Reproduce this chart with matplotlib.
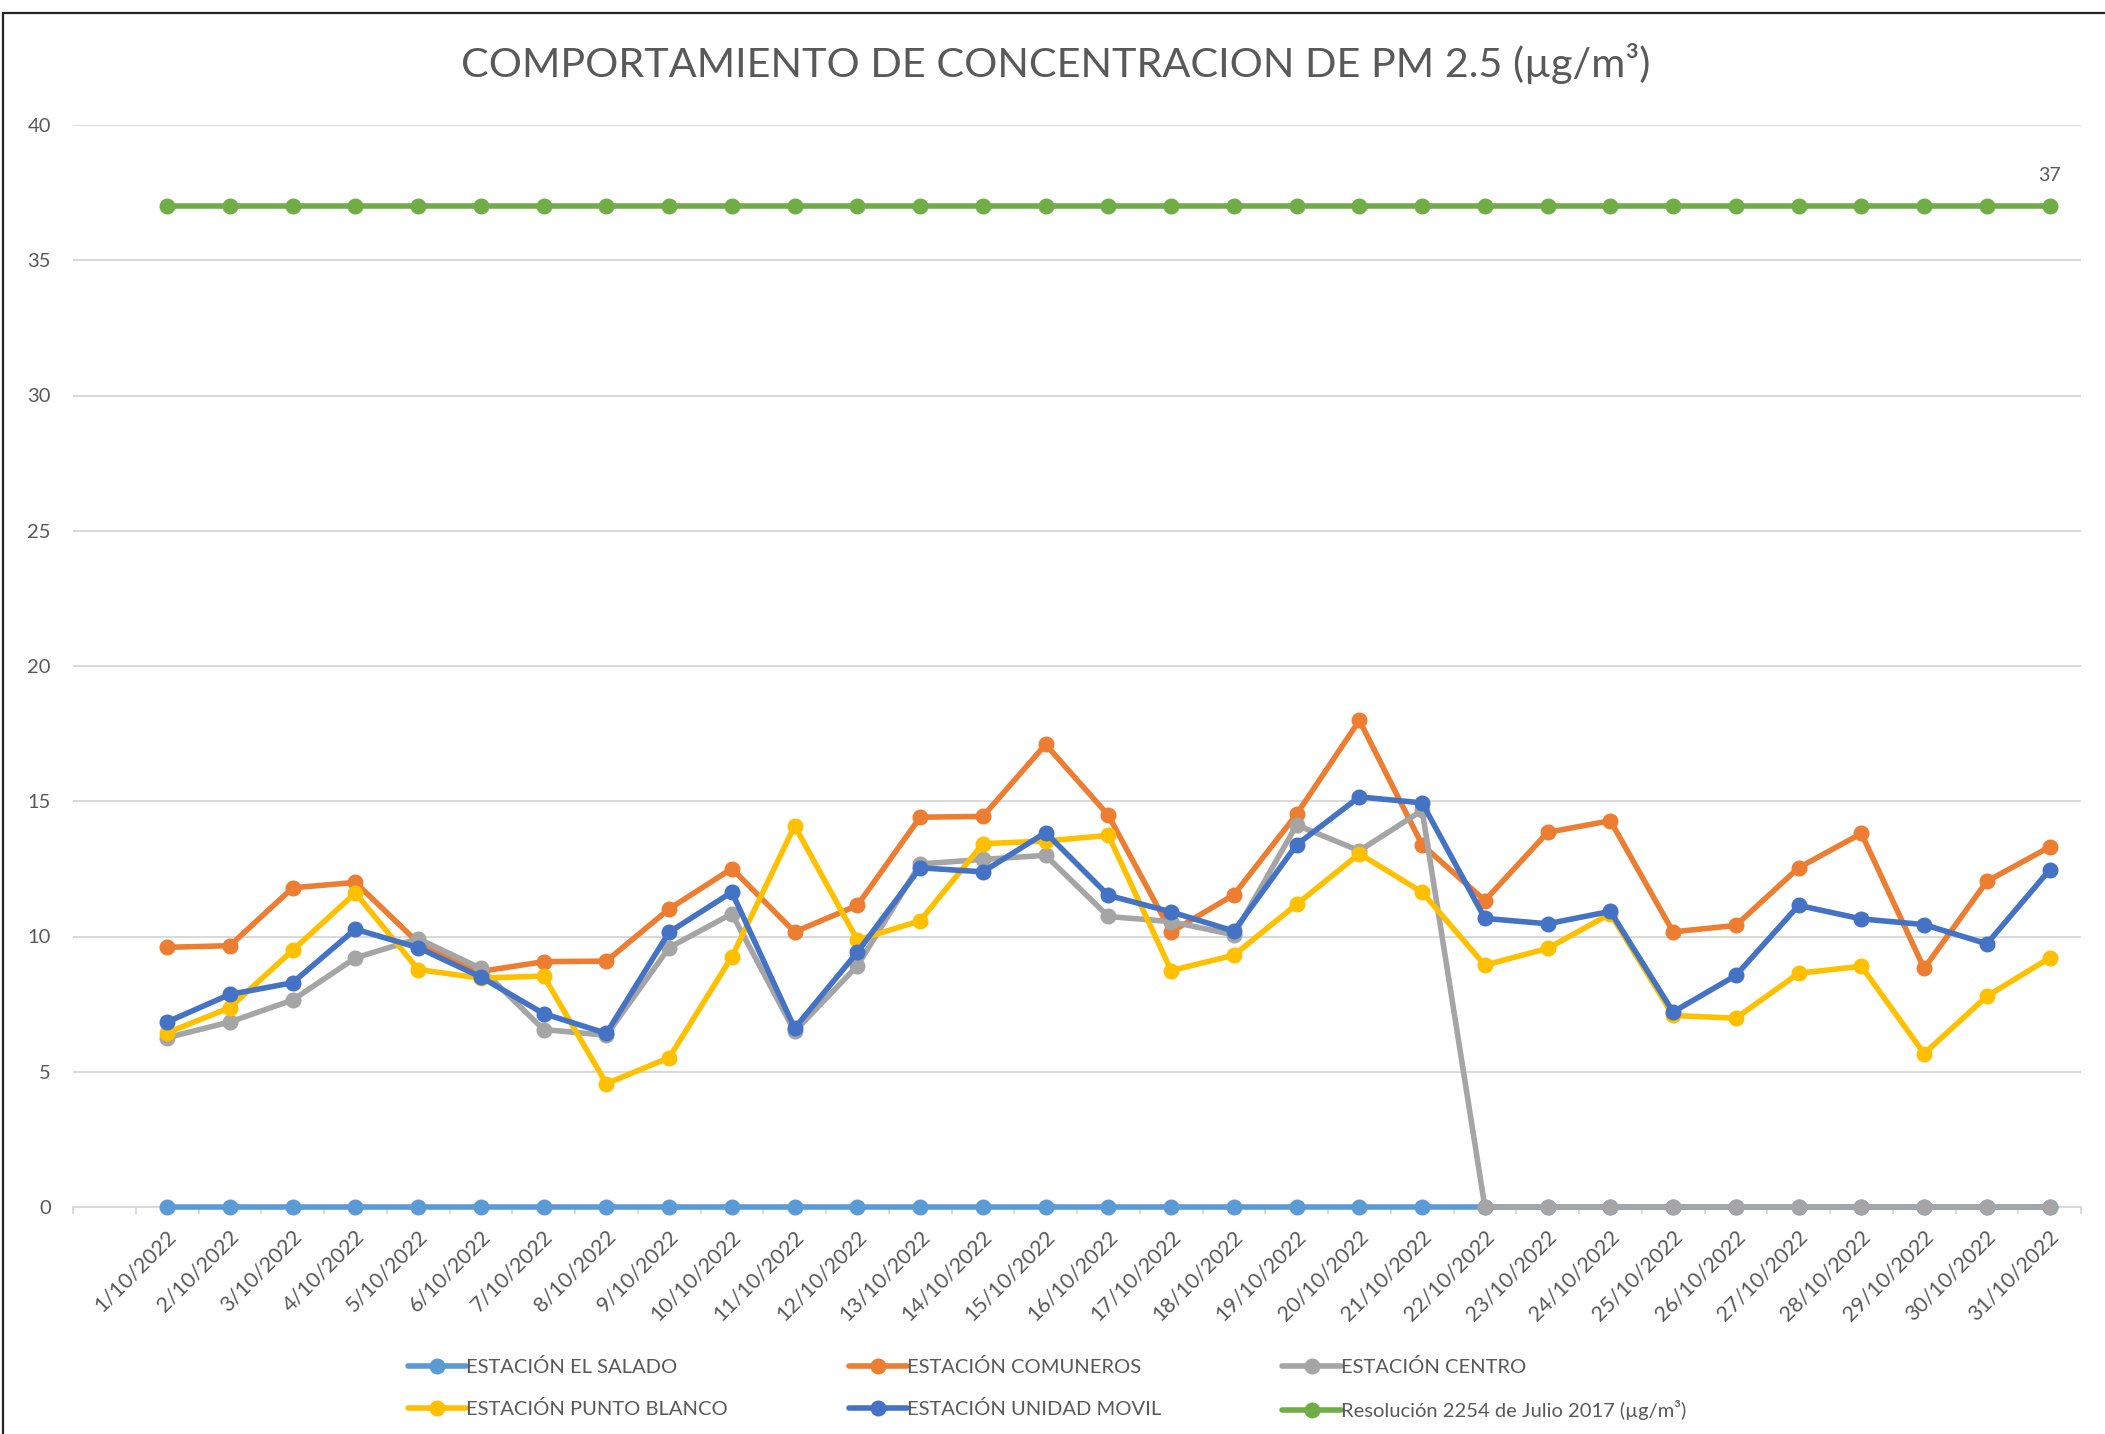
import matplotlib
matplotlib.use("Agg")
import matplotlib.pyplot as plt
import matplotlib.transforms as mtransforms
from matplotlib.patches import Rectangle
import numpy as np

dates = [f"{d}/10/2022" for d in range(1, 32)]

el_salado = [0] * 31
comuneros = [9.6, 9.66, 11.8, 12.0, 9.77, 8.71, 9.07, 9.09, 11.02, 12.51,
             10.17, 11.15, 14.41, 14.44, 17.1, 14.48, 10.17, 11.54, 14.52, 17.99,
             13.39, 11.33, 13.85, 14.28, 10.17, 10.41, 12.54, 13.81, 8.82, 12.04, 13.31]
centro = [6.26, 6.84, 7.65, 9.21, 9.92, 8.82, 6.56, 6.35, 9.59, 10.84,
          6.49, 8.92, 12.68, 12.85, 13.0, 10.74, 10.55, 10.06, 14.12, 13.17,
          14.66, 0, 0, 0, 0, 0, 0, 0, 0, 0, 0]
punto_blanco = [6.44, 7.37, 9.49, 11.61, 8.78, 8.46, 8.54, 4.56, 5.52, 9.25,
                14.09, 9.87, 10.58, 13.43, 13.53, 13.74, 8.74, 9.31, 11.19, 13.06,
                11.64, 8.94, 9.56, 10.84, 7.08, 6.98, 8.64, 8.9, 5.67, 7.79, 9.21]
unidad_movil = [6.84, 7.86, 8.29, 10.27, 9.59, 8.5, 7.15, 6.42, 10.16, 11.64,
                6.61, 9.42, 12.54, 12.39, 13.84, 11.52, 10.91, 10.2, 13.39, 15.16,
                14.94, 10.67, 10.47, 10.93, 7.21, 8.56, 11.15, 10.65, 10.44, 9.73, 12.46]
resolucion = [37] * 31

series_names = ["ESTACIÓN EL SALADO", "ESTACIÓN COMUNEROS", "ESTACIÓN CENTRO",
                "ESTACIÓN PUNTO BLANCO", "ESTACIÓN UNIDAD MOVIL",
                "Resolución 2254 de Julio 2017 (µg/m³)"]
series_values = [el_salado, comuneros, centro, punto_blanco, unidad_movil, resolucion]
series_colors = ["#5B9BD5", "#ED7D31", "#A5A5A5", "#FFC000", "#4472C4", "#70AD47"]

title = "COMPORTAMIENTO DE CONCENTRACION DE PM 2.5 (µg/m³)"
yticks = [0, 5, 10, 15, 20, 25, 30, 35, 40]

FONT = ["Lato", "DejaVu Sans"]
TXT = "#595959"
plt.rcParams["font.family"] = FONT

W, H = 2105, 1434
fig = plt.figure(figsize=(W / 100, H / 100), dpi=100)
fig.patch.set_facecolor("white")

ax_l, ax_r, ax_t, ax_b = 73, 2081, 125, 1207
ax = fig.add_axes([ax_l / W, 1 - ax_b / H, (ax_r - ax_l) / W, (ax_b - ax_t) / H])

x = np.arange(len(dates))
handles = []
for name, vals, col in zip(series_names, series_values, series_colors):
    h, = ax.plot(x, vals, color=col, lw=4, marker="o", ms=10.5,
                 solid_capstyle="round", label=name, clip_on=False, zorder=3)
    handles.append(h)

# data label on last point of the norm line
ax.annotate(f"{resolucion[-1]}", (x[-1], resolucion[-1]), xytext=(0, 22),
            textcoords="offset points", ha="center", va="center",
            fontsize=14, color=TXT)

ax.set_xlim(-1.5, len(dates) - 0.5)
ax.set_ylim(0, 40)
ax.set_yticks(yticks)
ax.set_yticklabels([str(v) for v in yticks], fontsize=14.5, color=TXT)
ax.tick_params(axis="y", length=0, pad=16)
ax.yaxis.grid(True, color="#D9D9D9", lw=1.4)
ax.set_axisbelow(True)

# category ticks at boundaries
ax.set_xticks(np.arange(-1.5, len(dates), 1.0), minor=True)
ax.set_xticks(x)
ax.set_xticklabels(dates, fontsize=15.5, color=TXT, rotation=45,
                   ha="right", va="center", rotation_mode="anchor")
ax.tick_params(axis="x", which="major", length=0, pad=19)
ax.tick_params(axis="x", which="minor", length=5, width=1.4, color="#D9D9D9")
offset = mtransforms.ScaledTranslation(6 / 100, 0, fig.dpi_scale_trans)
for lbl in ax.get_xticklabels():
    lbl.set_transform(lbl.get_transform() + offset)

for s in ["top", "right", "left"]:
    ax.spines[s].set_visible(False)
ax.spines["bottom"].set_color("#D9D9D9")
ax.spines["bottom"].set_linewidth(1.4)
ax.spines["bottom"].set_zorder(1)

fig.text(1056 / W, 1 - 64 / H, title, ha="center", va="center",
         fontsize=29.8, color=TXT)

order = [0, 3, 1, 4, 2, 5]
leg = fig.legend([handles[i] for i in order], [series_names[i] for i in order],
                 ncol=3, loc="center", bbox_to_anchor=(1047 / W, 1 - 1389 / H),
                 frameon=False, fontsize=14.5, handlelength=2.9, handletextpad=0.0,
                 columnspacing=6.0, labelspacing=1.2, labelcolor=TXT)

# chart-area border (left and top visible)
fig.add_artist(Rectangle((3 / W, -0.1), 1.2, 1 - 13 / H + 0.1,
                         transform=fig.transFigure, fill=False,
                         edgecolor="#262626", lw=1.6))

fig.savefig("out.png", dpi=100, facecolor="white")
